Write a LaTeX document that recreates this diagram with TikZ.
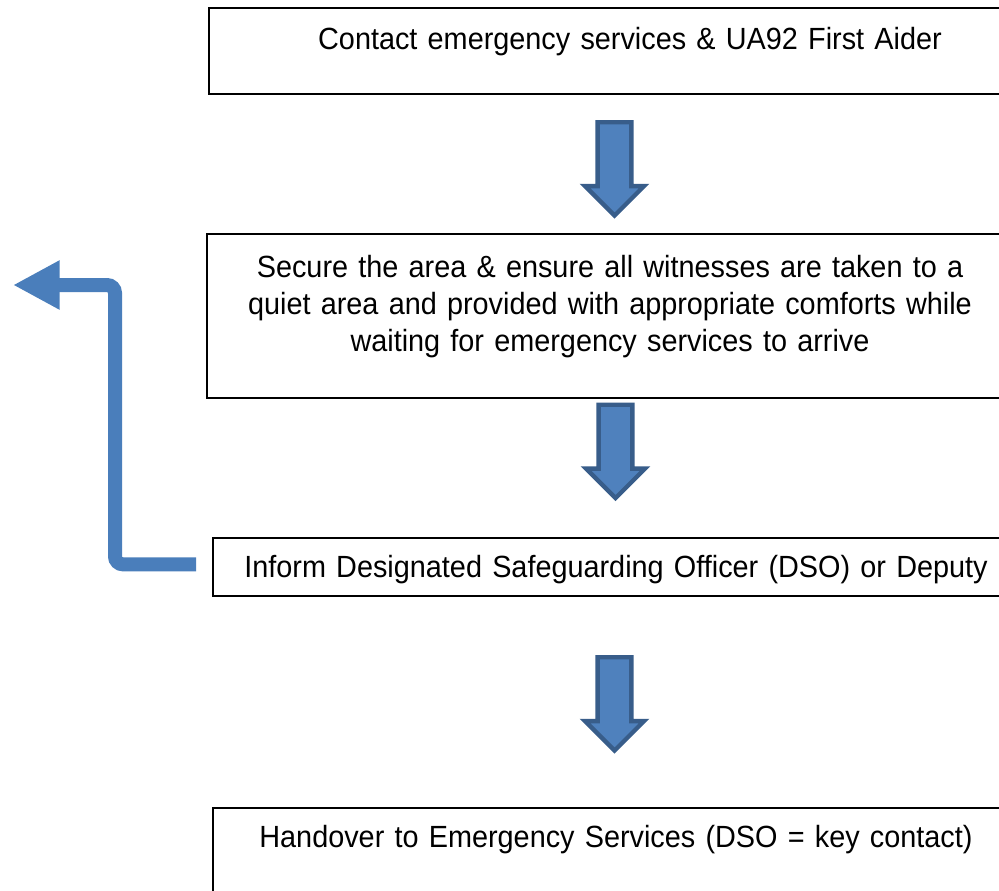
\documentclass[tikz,border=0pt]{standalone}
\usepackage{fontspec}
\setmainfont[FakeStretch=0.94]{Liberation Sans}
\usepackage{tikz}
\usetikzlibrary{shapes.arrows,arrows.meta,positioning,calc}
\definecolor{boxblue}{RGB}{79,129,189}
\definecolor{edgeblue}{RGB}{56,93,138}
\definecolor{loopblue}{RGB}{74,126,187}

\begin{document}
\begin{tikzpicture}[x=0.75pt,y=-0.75pt,
  box/.style={draw=black,line width=1.5pt,inner sep=0pt,align=center,anchor=north,
    font=\fontsize{23}{28}\selectfont,text width=604.5pt},
  down/.style={single arrow,rotate=-90,fill=boxblue,draw=edgeblue,line width=3.3pt,
    inner xsep=0pt,inner ysep=11pt,single arrow head extend=9.5pt,minimum height=70pt},
  back/.style={-{Triangle[length=35pt,width=34.5pt]},line width=10.5pt,color=loopblue,rounded corners=6pt}]
  \clip (0,0) rectangle (999,890);
  \fill[white] (0,0) rectangle (999,890);
  \node[box,text width=631.5pt,text height=30.75pt,text depth=33.75pt] (contact) at (630,7)
    {Contact emergency services \& UA92 First Aider};
  \node[box,text height=32.25pt,text depth=90.75pt] (secure) at (610,233)
    {Secure the area \& ensure all witnesses are taken to a\\quiet area and provided with appropriate comforts while\\waiting for emergency services to arrive};
  \node[box,text height=29.25pt,text depth=14.25pt] (inform) at (616,537)
    {Inform Designated Safeguarding Officer (DSO) or Deputy};
  \node[box,text height=29.25pt,text depth=44.25pt] (handover) at (616,807)
    {Handover to Emergency Services (DSO = key contact)};
  \node[down] (arr1) at (614.5,160.5) {};
  \node[down] (arr2) at (615.5,443) {};
  \node[down] (arr3) at (614.5,695.5) {};
  \coordinate (alert) at (13,285);
  \draw[back] ([xshift=-12pt,yshift=2pt]inform.west) -- ++(-81,0) |- (alert);
\end{tikzpicture}
\end{document}
